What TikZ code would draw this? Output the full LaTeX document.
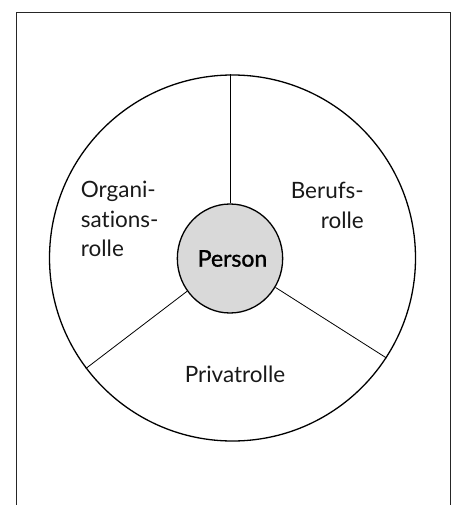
\documentclass[tikz,border=0pt]{standalone}
\usepackage{fontspec}
\setmainfont{Lato}[Ligatures=NoCommon]
\usetikzlibrary{shapes.geometric}
\definecolor{personfill}{HTML}{D9D9D9}
\begin{document}
\begin{tikzpicture}[x=1pt,y=-1pt,
  frameline/.style={line width=1.1pt, draw=black!85},
  ringline/.style={line width=1.3pt, draw=black},
  spoke/.style={line width=0.8pt, draw=black},
  rolelabel/.style={inner sep=0pt, font=\fontsize{22.5}{29.5}\selectfont, text=black!90},
]
\useasboundingbox (0,0) rectangle (456,505);
% open frame
\draw[frameline] (16.5,505) -- (16.5,12.5) -- (450.5,12.5) -- (450.5,505);
% outer ring
\node[circle, ringline, minimum size=366pt, inner sep=0pt] (ring) at (232.5,258) {};
% person in the middle
\node[ellipse, ringline, fill=personfill, minimum width=99pt, minimum height=109pt,
      inner sep=0pt, text=black,
      font=\fontsize{23}{26}\selectfont\addfontfeature{FakeBold=1.2}] (person) at (230,258.5) {\hspace*{5pt}Person};
% spokes dividing the three roles
\coordinate (topend) at (person.north |- ring.north);
\draw[spoke] (person.north) -- (topend);
\draw[spoke] (person) -- (ring.217.7);
\draw[spoke] (person) -- (ring.-33.9);
% role labels (base anchor sits on the last line)
\node[rolelabel, anchor=base west, align=left] (orga) at (80.7,256.7) {Organi-\\sations-\\rolle};
\node[rolelabel, anchor=base east, align=right] (beruf) at (364,228) {Berufs-\\rolle};
\node[rolelabel, anchor=base] (privat) at (235,382.7) {Privatrolle};
\end{tikzpicture}
\end{document}
